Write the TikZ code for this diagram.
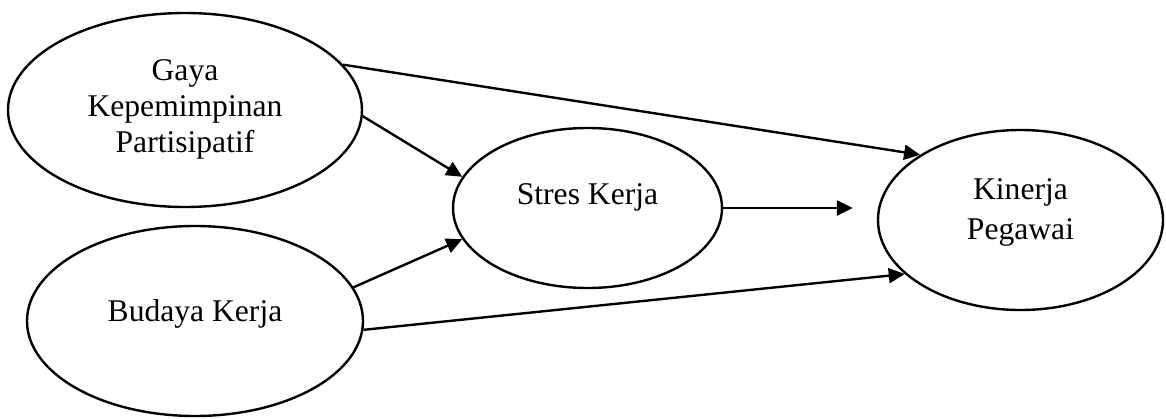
\documentclass[tikz,border=0pt]{standalone}
\usepackage{fontspec}
\setmainfont{Liberation Serif}
\usetikzlibrary{arrows.meta,shapes.geometric}
\begin{document}
\begin{tikzpicture}[x=0.5pt,y=-0.5pt,
    var/.style={draw,ellipse,line width=1.2pt,inner sep=0pt,align=center,
        font=\fontsize{15.8}{18}\selectfont,text height=0pt,text depth=0pt},
    panah/.style={line width=1.2pt,-{Triangle[length=8pt,width=7.5pt]}}]
\useasboundingbox (0,0) rectangle (1166,418);
    %Variabel
    \node[var,minimum width=177pt,minimum height=97pt,text height=42pt] (gaya) at (185,110) {Gaya\\Kepemimpinan\\Partisipatif};
    \node[var,minimum width=168pt,minimum height=95pt] (budaya) at (195,321) {Budaya Kerja};
    \node[var,minimum width=134.5pt,minimum height=80pt,text depth=4pt] (stres) at (587.5,208) {Stres Kerja};
    \node[var,minimum width=142.5pt,minimum height=90pt,text height=19pt] (kinerja) at (1020.5,220) {Kinerja\\[2pt]Pegawai};

    %Panah
    \draw[panah] (gaya.16.5) -- (kinerja.147.3);
    \draw[panah] (gaya.-2.6) -- (stres.166);
    \draw[panah] (budaya.12) -- (stres.194.8);
    \draw[panah] (budaya.-3.4) -- (kinerja.205.9);
    \draw[panah,shorten >=12pt] (stres.east) -- (stres.east -| kinerja.west);
\end{tikzpicture}
\end{document}
